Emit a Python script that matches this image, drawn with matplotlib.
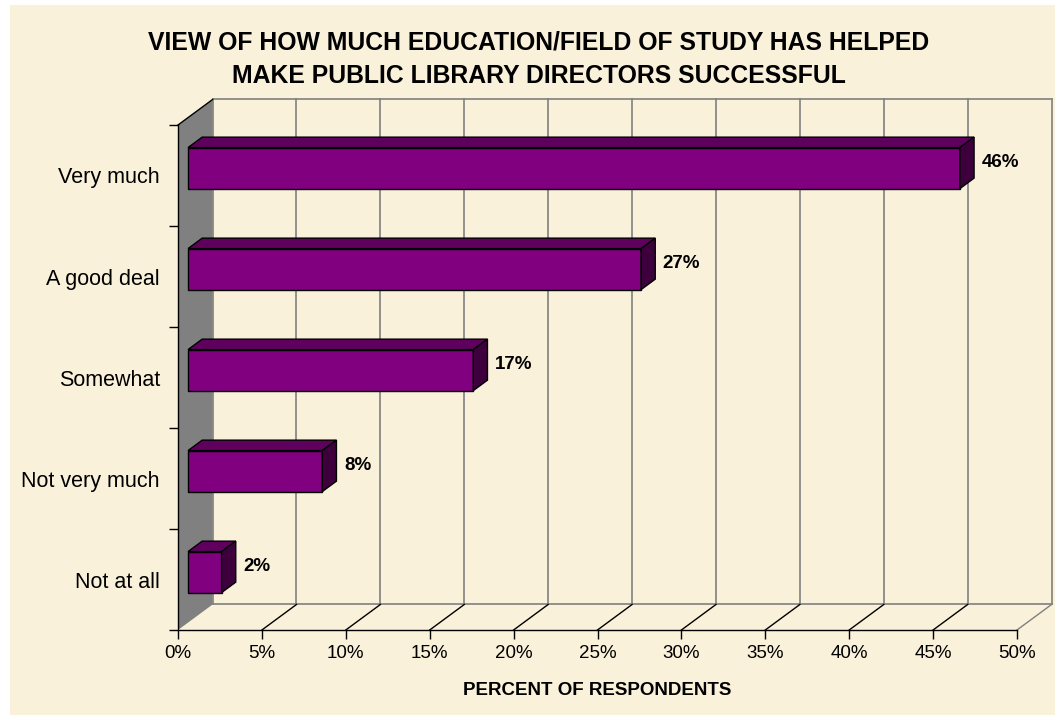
import matplotlib.pyplot as plt
from matplotlib.patches import Polygon, Rectangle

# survey answers, bottom to top
categories = ['Not at all', 'Not very much', 'Somewhat', 'A good deal', 'Very much']
percents = [2, 8, 17, 27, 46]
x_ticks = list(range(0, 51, 5))
x_tick_labels = [f'{t}%' for t in x_ticks]

plt.rcParams['font.family'] = ['Liberation Sans', 'DejaVu Sans']

W, H = 1055, 715
fig = plt.figure(figsize=(W / 100, H / 100), dpi=100)
fig.patch.set_facecolor('white')
# parchment chart area
fig.patches.append(Rectangle((10 / W, 0), 1 - 10 / W, 1 - 5 / H, transform=fig.transFigure,
                             facecolor='#FAF1DA', edgecolor='none', zorder=-10))

ax = fig.add_axes([178 / W, 85 / H, 839 / W, 505 / H])
ax.set_facecolor('none')
ax.set_xlim(0, 50)
ax.set_ylim(-0.5, 4.5)

# depth of the 3-D box in data units, and where the bars sit inside it
dx, dy = 2.06, 0.2525
f1, f2 = 0.29, 0.70
wdx, wdy = (f2 - f1) * dx, (f2 - f1) * dy
bar_h = 0.406
grid_col = '#808080'
y_lo, y_hi = -0.5, 4.5

# left side wall
ax.add_patch(Polygon([(0, y_lo), (0, y_hi), (dx, y_hi + dy), (dx, y_lo + dy)],
                     closed=True, facecolor='#808080', edgecolor='none', clip_on=False, zorder=1))
ax.plot([0, dx], [y_hi, y_hi + dy], color='black', lw=1, clip_on=False, zorder=2)

# back wall gridlines and outline
for t in x_ticks:
    ax.plot([t + dx, t + dx], [y_lo + dy, y_hi + dy], color=grid_col, lw=1.2, clip_on=False, zorder=1)
ax.plot([dx, 50 + dx], [y_hi + dy, y_hi + dy], color=grid_col, lw=1.2, clip_on=False, zorder=1)
ax.plot([dx, 50 + dx], [y_lo + dy, y_lo + dy], color=grid_col, lw=1.2, clip_on=False, zorder=1)

# floor lines
for t in x_ticks[1:]:
    col = grid_col if t == x_ticks[-1] else 'black'
    ax.plot([t, t + dx], [y_lo, y_lo + dy], color=col, lw=1, clip_on=False, zorder=1)

# 3-D bars: front face, top face, end face
for i, v in enumerate(percents):
    x0 = f1 * dx
    yc = i + f1 * dy
    y0 = yc - bar_h / 2
    ax.barh(yc, v, left=x0, height=bar_h, color='#800080', edgecolor='black', lw=1, zorder=3)
    ax.add_patch(Polygon([(x0, y0 + bar_h), (x0 + v, y0 + bar_h),
                          (x0 + v + wdx, y0 + bar_h + wdy), (x0 + wdx, y0 + bar_h + wdy)],
                         closed=True, facecolor='#5F005F', edgecolor='black', lw=1,
                         clip_on=False, zorder=3))
    ax.add_patch(Polygon([(x0 + v, y0), (x0 + v + wdx, y0 + wdy),
                          (x0 + v + wdx, y0 + bar_h + wdy), (x0 + v, y0 + bar_h)],
                         closed=True, facecolor='#3D003D', edgecolor='black', lw=1,
                         clip_on=False, zorder=3))
    ax.text(x0 + v + wdx + 0.45, i + (f1 + f2) / 2 * dy, f'{v}%', fontsize=13.5,
            fontweight='bold', ha='left', va='center', zorder=4)

ax.set_xticks(x_ticks, x_tick_labels)
ax.tick_params(axis='x', length=6.5, width=1, pad=4, labelsize=13.5)
ax.set_yticks(range(len(categories)), categories)
ax.tick_params(axis='y', which='major', length=0, pad=13, labelsize=15.5)
ax.set_yticks([y_lo + k for k in range(len(categories) + 1)], minor=True)
ax.tick_params(axis='y', which='minor', length=6.5, width=1)

for side in ['top', 'right']:
    ax.spines[side].set_visible(False)
for side in ['left', 'bottom']:
    ax.spines[side].set_color('black')
    ax.spines[side].set_linewidth(1)
    ax.spines[side].set_zorder(2)

ax.set_xlabel('PERCENT OF RESPONDENTS', fontsize=13.5, fontweight='bold', labelpad=15)

fig.text(539 / W, 1 - 30 / H,
         'VIEW OF HOW MUCH EDUCATION/FIELD OF STUDY HAS HELPED\nMAKE PUBLIC LIBRARY DIRECTORS SUCCESSFUL',
         ha='center', va='top', fontsize=17.8, fontweight='bold', linespacing=1.52)

fig.savefig('out.png', dpi=100)
